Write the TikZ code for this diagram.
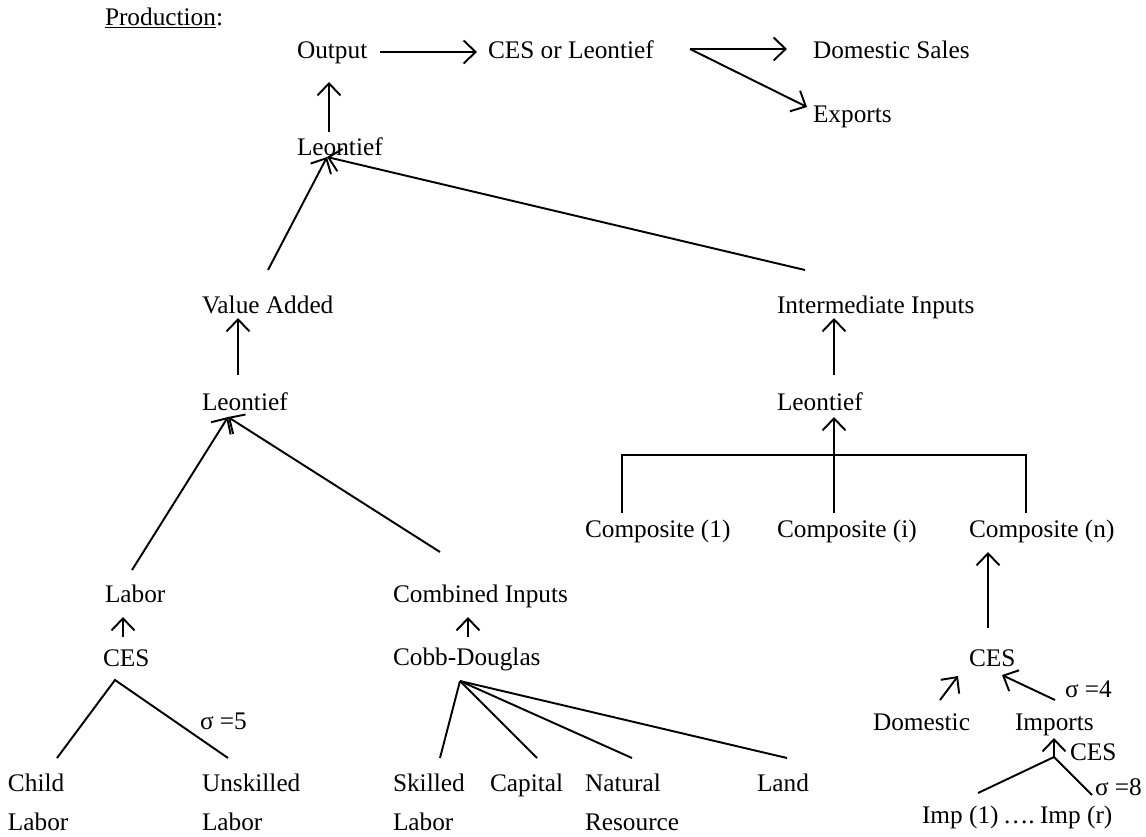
\documentclass[tikz,border=0pt]{standalone}
\usepackage{fontspec}
\setmainfont{Liberation Serif}
\usetikzlibrary{arrows.meta}
\newcommand\twoline[2]{\vtop{\baselineskip=22.4pt\hbox{#1}\hbox{#2}}}
\begin{document}
\begin{tikzpicture}[x=0.02cm,y=-0.02cm,
  lbl/.style={anchor=base west,inner sep=0pt,outer sep=0pt,font=\fontsize{14.4}{17}\selectfont},
  conn/.style={line width=1.1pt},
  arr/.style={conn,-{Straight Barb[length=0.24cm,width=0.46cm]}}]
\useasboundingbox (0,0) rectangle (1146,836);
% labels
\node[lbl] (prod) at (105,25) {\underline{Production}:};
\node[lbl] (out) at (297,58) {Output};
\node[lbl] (ces1) at (488,58) {CES or Leontief};
\node[lbl] (dom) at (813,58) {Domestic Sales};
\node[lbl] (exp) at (813,122) {Exports};
\node[lbl] (leo1) at (297,155) {Leontief};
\node[lbl] (va) at (202,313) {Value Added};
\node[lbl] (ii) at (777,313) {Intermediate Inputs};
\node[lbl] (leo2) at (202,410) {Leontief};
\node[lbl] (leo3) at (777,410) {Leontief};
\node[lbl] (c1) at (585,537) {Composite (1)};
\node[lbl] (ci) at (777,537) {Composite (i)};
\node[lbl] (cn) at (969,537) {Composite (n)};
\node[lbl] (lab) at (105,602) {Labor};
\node[lbl] (comb) at (393,602) {Combined Inputs};
\node[lbl] (ces2) at (103,666) {CES};
\node[lbl] (cd) at (393,665) {Cobb-Douglas};
\node[lbl] (ces3) at (969,666) {CES};
\node[lbl] (s5) at (200,729) {σ =5};
\node[lbl] (dmst) at (873,730) {Domestic};
\node[lbl] (imp) at (1015,730) {Imports};
\node[lbl] (s4) at (1065,697) {σ =4};
\node[lbl] (ces4) at (1070,760) {CES};
\node[lbl] (s8) at (1095,795) {σ =8};
\node[lbl] (child) at (8,791) {\twoline{Child}{Labor}};
\node[lbl] (unsk) at (202,791) {\twoline{Unskilled}{Labor}};
\node[lbl] (skl) at (393,791) {\twoline{Skilled}{Labor}};
\node[lbl] (cap) at (490,791) {Capital};
\node[lbl] (nat) at (585,791) {\twoline{Natural}{Resource}};
\node[lbl] (land) at (757,791) {Land};
\node[lbl] (imp1) at (922,823) {Imp (1)};
\node[lbl] (dots) at (1003,823) {….};
\node[lbl] (impr) at (1040,823) {Imp (r)};
% top connectors
\draw[arr] ([shift={(83,-6)}]out.base west) -- ([shift={(-11,-6)}]ces1.base west);
\draw[arr] ([shift={(202,-9)}]ces1.base west) -- ([shift={(-26,-9)}]dom.base west);
\draw[arr] ([shift={(202,-9)}]ces1.base west) -- ([shift={(-6,-15)}]exp.base west);
\draw[arr] ([shift={(32,-23)}]leo1.base west) -- ([shift={(32,24)}]out.base west);
\draw[arr] ([shift={(66,-43)}]va.base west) -- ([shift={(30,2)}]leo1.base west);
\draw[arr] ([shift={(28,-43)}]ii.base west) -- ([shift={(30,2)}]leo1.base west);
% value added branch
\draw[arr] ([shift={(36,-35)}]leo2.base west) -- ([shift={(36,5)}]va.base west);
\draw[arr] ([shift={(27,-32)}]lab.base west) -- ([shift={(26,7)}]leo2.base west);
\draw[arr] ([shift={(47,-50)}]comb.base west) -- ([shift={(26,7)}]leo2.base west);
\draw[arr] ([shift={(20,-29)}]ces2.base west) -- ([shift={(18,15)}]lab.base west);
\draw[arr] ([shift={(75,-28)}]cd.base west) -- ([shift={(75,15)}]comb.base west);
\draw[conn] ([shift={(49,-33)}]child.base west) -- ([shift={(12,14)}]ces2.base west) -- ([shift={(26,-33)}]unsk.base west);
\draw[conn] ([shift={(67,16)}]cd.base west) -- ([shift={(47,-33)}]skl.base west);
\draw[conn] ([shift={(67,16)}]cd.base west) -- ([shift={(47,-33)}]cap.base west);
\draw[conn] ([shift={(67,16)}]cd.base west) -- ([shift={(47,-33)}]nat.base west);
\draw[conn] ([shift={(67,16)}]cd.base west) -- ([shift={(30,-33)}]land.base west);
% intermediate branch
\draw[arr] ([shift={(57,-35)}]leo3.base west) -- ([shift={(57,5)}]ii.base west);
\draw[conn] ([shift={(37,-24)}]c1.base west) -- ([shift={(37,-82)}]c1.base west) -- ([shift={(57,-82)}]cn.base west) -- ([shift={(57,-24)}]cn.base west);
\draw[arr] ([shift={(57,-24)}]ci.base west) -- ([shift={(57,7)}]leo3.base west);
\draw[arr] ([shift={(19,-38)}]ces3.base west) -- ([shift={(19,15)}]cn.base west);
\draw[arr] ([shift={(67,-30)}]dmst.base west) -- ([shift={(-11,10)}]ces3.base west);
\draw[arr] ([shift={(40,-30)}]imp.base west) -- ([shift={(33,9)}]ces3.base west);
\draw[arr] ([shift={(39,27)}]imp.base west) -- ([shift={(39,8)}]imp.base west);
\draw[conn] ([shift={(56,-30)}]imp1.base west) -- ([shift={(39,27)}]imp.base west) -- ([shift={(52,-28)}]impr.base west);
\end{tikzpicture}
\end{document}
